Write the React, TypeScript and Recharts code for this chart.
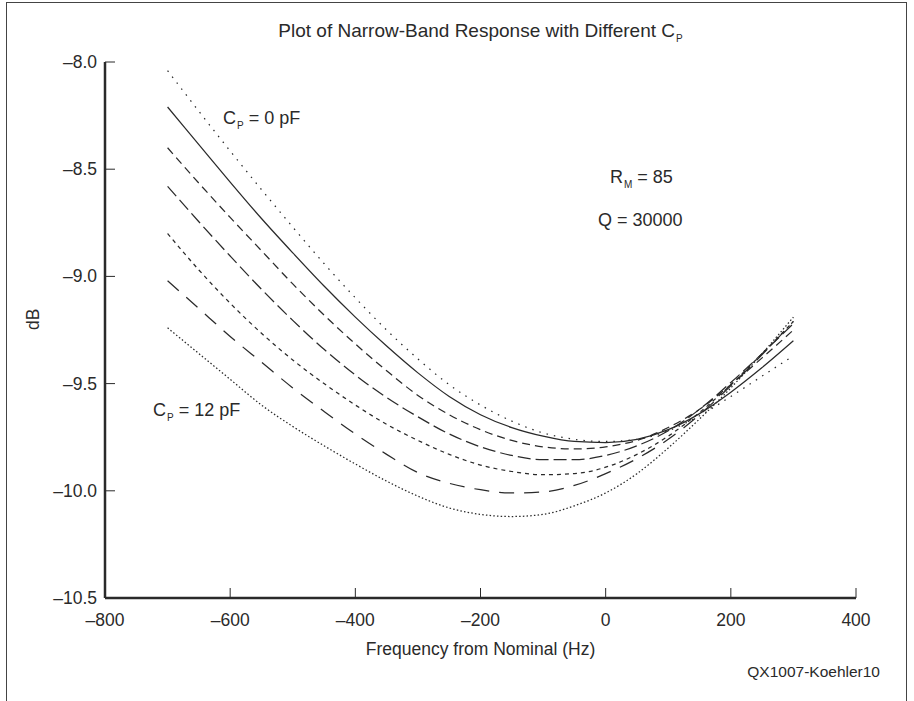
import { LineChart, Line, XAxis, YAxis, Label } from 'recharts';

// frequency offsets (Hz)
const freqs = [-700, -650, -600, -550, -500, -450, -400, -350, -300, -250, -200, -150, -100, -50, 0, 50, 100, 150, 200, 250, 300];

// response in dB, one array per Cp value (0 pF ... 12 pF)
const cp0 = [-8.04, -8.23, -8.415, -8.595, -8.77, -8.94, -9.1, -9.25, -9.385, -9.505, -9.6, -9.675, -9.73, -9.76, -9.77, -9.76, -9.72, -9.65, -9.56, -9.465, -9.37];
const cp2 = [-8.21, -8.385, -8.56, -8.73, -8.89, -9.045, -9.19, -9.325, -9.45, -9.56, -9.645, -9.705, -9.745, -9.77, -9.775, -9.76, -9.715, -9.64, -9.54, -9.425, -9.3];
const cp4 = [-8.4, -8.565, -8.725, -8.88, -9.035, -9.18, -9.315, -9.44, -9.555, -9.645, -9.715, -9.765, -9.795, -9.805, -9.795, -9.765, -9.705, -9.62, -9.505, -9.38, -9.25];
const cp6 = [-8.58, -8.745, -8.905, -9.06, -9.205, -9.34, -9.46, -9.565, -9.655, -9.735, -9.795, -9.835, -9.855, -9.855, -9.835, -9.79, -9.72, -9.62, -9.495, -9.36, -9.22];
const cp8 = [-8.8, -8.97, -9.125, -9.265, -9.39, -9.5, -9.6, -9.69, -9.765, -9.83, -9.88, -9.91, -9.925, -9.92, -9.89, -9.83, -9.745, -9.635, -9.505, -9.36, -9.21];
const cp10 = [-9.02, -9.15, -9.28, -9.4, -9.52, -9.63, -9.735, -9.83, -9.915, -9.965, -9.995, -10.01, -10.005, -9.975, -9.92, -9.85, -9.76, -9.645, -9.51, -9.365, -9.21];
const cp12 = [-9.24, -9.36, -9.48, -9.6, -9.7, -9.79, -9.875, -9.955, -10.025, -10.08, -10.11, -10.12, -10.11, -10.07, -10.01, -9.92, -9.8, -9.665, -9.52, -9.36, -9.19];

const xTicks = [-800, -600, -400, -200, 0, 200, 400];
const yTicks = [-8.0, -8.5, -9.0, -9.5, -10.0, -10.5];

const data = freqs.map((f, i) => ({
  f,
  cp0: cp0[i],
  cp2: cp2[i],
  cp4: cp4[i],
  cp6: cp6[i],
  cp8: cp8[i],
  cp10: cp10[i],
  cp12: cp12[i],
}));

const series = [
  { key: 'cp0', dash: '1.5 6' },
  { key: 'cp2', dash: undefined },
  { key: 'cp4', dash: '8 5' },
  { key: 'cp6', dash: '13 5' },
  { key: 'cp8', dash: '4 4' },
  { key: 'cp10', dash: '15 10' },
  { key: 'cp12', dash: '1.5 2.2' },
];

const font = "'Liberation Sans', Arial, Helvetica, sans-serif";
const ink = '#2a2a2a';
const TICK = 10;
const fmt = (v: number) => (v < 0 ? '\u2013' + Math.abs(v).toFixed(1) : v.toFixed(1));
const fmtX = (v: number) => (v < 0 ? '\u2013' + Math.abs(v) : String(v));

// inward tick marks drawn by hand, labels outside
const BottomTick = ({ x, y, payload }: any) => (
  <g>
    <line x1={x} x2={x} y1={y} y2={y - TICK} stroke={ink} strokeWidth={1} />
    <text x={x} y={y + 28} textAnchor="middle" fill={ink} fontSize={17.5} fontFamily={font}>
      {fmtX(payload.value)}
    </text>
  </g>
);
const TopTick = ({ x, y }: any) => <line x1={x} x2={x} y1={y} y2={y + TICK} stroke={ink} strokeWidth={1} />;
const LeftTick = ({ x, y, payload }: any) => (
  <g>
    <line x1={x} x2={x + TICK} y1={y} y2={y} stroke={ink} strokeWidth={1} />
    <text x={x - 8} y={y + 6} textAnchor="end" fill={ink} fontSize={17.5} fontFamily={font}>
      {fmt(payload.value)}
    </text>
  </g>
);
const RightTick = ({ x, y }: any) => <line x1={x} x2={x - TICK} y1={y} y2={y} stroke={ink} strokeWidth={1} />;

const textStyle: React.CSSProperties = {
  position: 'absolute',
  fontFamily: font,
  fontSize: 18,
  color: ink,
  whiteSpace: 'nowrap',
  lineHeight: 1,
};

const Sub = ({ children }: { children: string }) => (
  <span style={{ fontSize: 10, position: 'relative', top: 5, marginLeft: 1 }}>{children}</span>
);

const axisLine = { stroke: ink, strokeWidth: 2.5 };

export default function App() {
  return (
    <div style={{ position: 'absolute', left: 0, top: 0, width: 914, height: 701, background: '#fff', overflow: 'hidden' }}>
      <div
        style={{
          position: 'absolute',
          left: 6,
          top: 2,
          width: 899,
          height: 720,
          borderLeft: '1.5px solid #444',
          borderRight: '1.5px solid #444',
          borderTop: '1.5px solid #444',
        }}
      />
      <LineChart
        width={914}
        height={701}
        data={data}
        margin={{ top: 62, right: 58, bottom: 73, left: 45 }}
        style={{ position: 'absolute', left: 0, top: 0 }}
      >
        <XAxis
          dataKey="f"
          type="number"
          domain={[-800, 400]}
          ticks={xTicks}
          height={30}
          tickSize={0}
          tickMargin={0}
          tickLine={false}
          axisLine={axisLine}
          tick={BottomTick}
          interval={0}
        >
          <Label value="Frequency from Nominal (Hz)" position="bottom" offset={15} fill={ink} fontSize={17.5} fontFamily={font} />
        </XAxis>
        <XAxis
          xAxisId="top"
          orientation="top"
          type="number"
          domain={[-800, 400]}
          ticks={xTicks}
          height={0}
          tickSize={0}
          tickMargin={0}
          tickLine={false}
          tick={TopTick}
          axisLine={axisLine}
          interval={0}
        />
        <YAxis
          type="number"
          domain={[-10.5, -8]}
          ticks={yTicks}
          width={60}
          tickSize={0}
          tickMargin={0}
          tickLine={false}
          axisLine={axisLine}
          tick={LeftTick}
          interval={0}
        >
          <Label value="dB" angle={-90} position="insideLeft" offset={-12} fill={ink} fontSize={17.5} fontFamily={font} />
        </YAxis>
        <YAxis
          yAxisId="right"
          orientation="right"
          type="number"
          domain={[-10.5, -8]}
          ticks={yTicks}
          width={0}
          tickSize={0}
          tickMargin={0}
          tickLine={false}
          tick={RightTick}
          axisLine={axisLine}
          interval={0}
        />
        {series.map((s) => (
          <Line
            key={s.key}
            dataKey={s.key}
            type="monotone"
            stroke={ink}
            strokeWidth={1.25}
            strokeDasharray={s.dash}
            dot={false}
            activeDot={false}
            isAnimationActive={false}
          />
        ))}
      </LineChart>

      <div style={{ ...textStyle, fontSize: 19, left: 0, width: 961, top: 21, textAlign: 'center' }}>
        Plot of Narrow-Band Response with Different C<Sub>P</Sub>
      </div>
      <div style={{ ...textStyle, left: 223, top: 109 }}>
        C<Sub>P</Sub> = 0 pF
      </div>
      <div style={{ ...textStyle, left: 610, top: 168 }}>
        R<Sub>M</Sub> = 85
      </div>
      <div style={{ ...textStyle, left: 598, top: 211 }}>Q = 30000</div>
      <div style={{ ...textStyle, left: 153, top: 401 }}>
        C<Sub>P</Sub> = 12 pF
      </div>
      <div style={{ ...textStyle, fontSize: 15.5, right: 34, top: 664 }}>QX1007-Koehler10</div>
    </div>
  );
}
